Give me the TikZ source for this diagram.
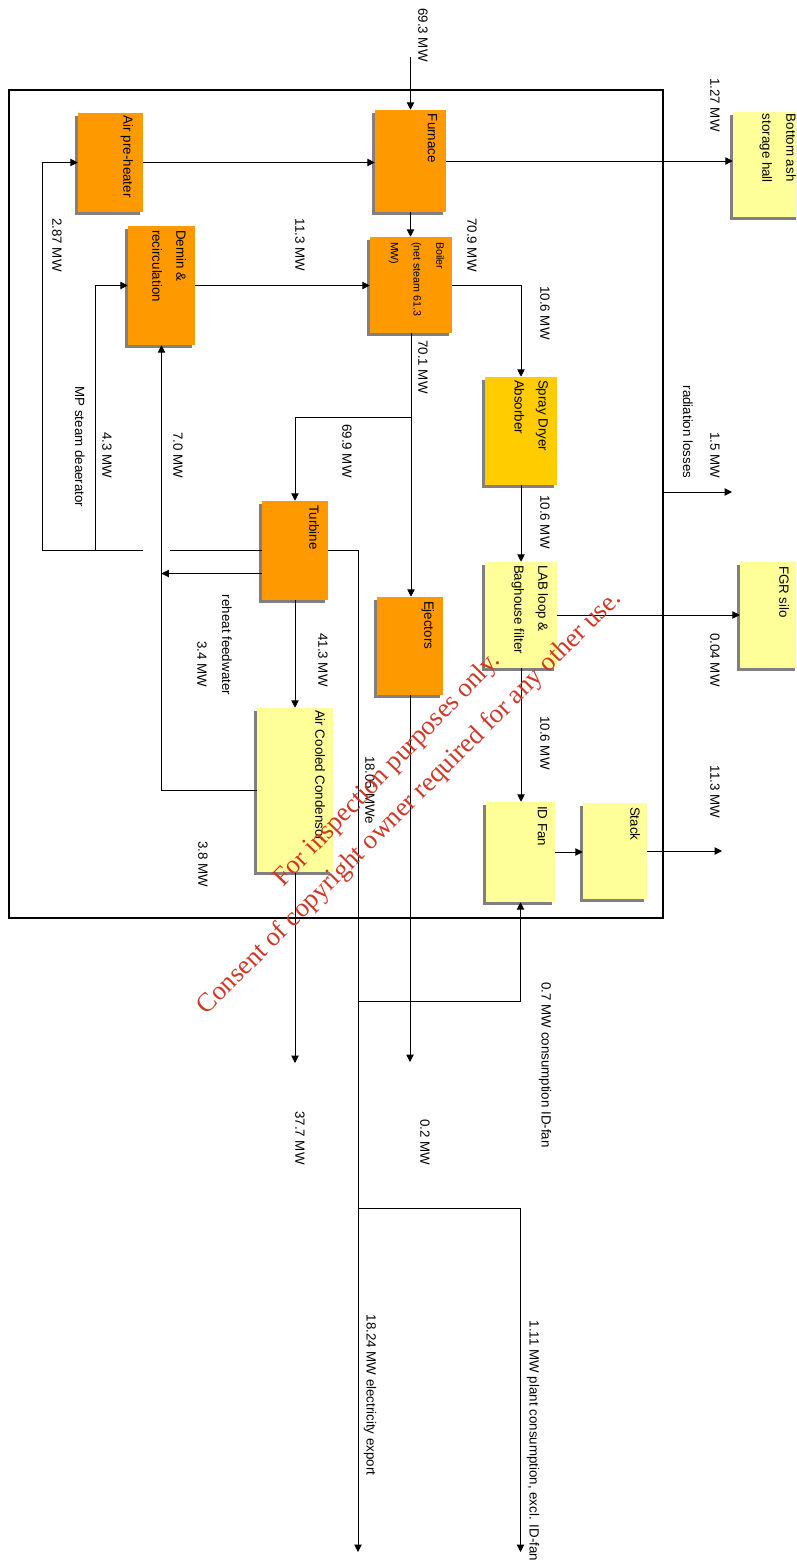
\documentclass[tikz,border=0pt]{standalone}
\usepackage{fontspec}
\setmainfont{Liberation Sans}
\newfontfamily\stampfont{Liberation Serif}
\usetikzlibrary{arrows.meta,positioning,shadows,calc}
\definecolor{unitorange}{RGB}{255,153,0}
\definecolor{unitgold}{RGB}{255,204,0}
\definecolor{unityellow}{RGB}{255,255,153}
\definecolor{stampred}{RGB}{206,56,38}

\begin{document}
\begin{tikzpicture}[x=0.75pt,y=-0.75pt,
  every node/.style={font=\fontsize{10}{12}\selectfont},
  unit/.style={rectangle,inner sep=0pt,drop shadow={shadow xshift=-2.2pt,shadow yshift=-2.2pt,fill=black!50,opacity=1}},
  unittext/.style={rotate=-90,anchor=north west,inner sep=0pt,align=left,font=\fontsize{10}{18}\selectfont},
  flowlabel/.style={rotate=-90,inner sep=0pt},
  flow/.style={line width=0.7pt,-{Triangle[length=5.5pt,width=5.5pt]}},
  wire/.style={line width=0.7pt}]
  \useasboundingbox (0,0) rectangle (796,1566);
  \clip (0,0) rectangle (796,1566);

  % plant boundary
  \draw[line width=1.1pt] (9,90) rectangle (663,918);

  % process units
  \node[unit,fill=unitorange,minimum width=48.75pt,minimum height=74.25pt] (airpre) at (110.5,162.5) {};
  \node[unit,fill=unitorange,minimum width=53.25pt,minimum height=76.5pt] (furnace) at (410.5,161) {};
  \node[unit,fill=unitorange,minimum width=50.25pt,minimum height=89.25pt] (demin) at (161.5,285.5) {};
  \node[unit,fill=unitorange,minimum width=61.5pt,minimum height=72pt] (boiler) at (411,285) {};
  \node[unit,fill=unityellow,minimum width=54pt,minimum height=78.75pt] (ashhall) at (769,164.5) {};
  \node[unit,fill=unitgold,minimum width=54pt,minimum height=81pt] (spray) at (521,431) {};
  \node[unit,fill=unityellow,minimum width=54pt,minimum height=79.5pt] (lab) at (521,615) {};
  \node[unit,fill=unityellow,minimum width=43.5pt,minimum height=79.5pt] (fgrsilo) at (769,615) {};
  \node[unit,fill=unityellow,minimum width=51.75pt,minimum height=75pt] (idfan) at (520.5,852) {};
  \node[unit,fill=unityellow,minimum width=48pt,minimum height=72pt] (stack) at (615,851) {};
  \node[unit,fill=unitorange,minimum width=49.5pt,minimum height=73.5pt] (ejectors) at (410,646) {};
  \node[unit,fill=unitorange,minimum width=49.5pt,minimum height=74.25pt] (turbine) at (295,550.5) {};
  \node[unit,fill=unityellow,minimum width=57pt,minimum height=123pt] (condenser) at (295,790) {};

  % unit names
  \node[unittext] (airpretxt) at ($(airpre.north east)+(-10,3)$) {Air pre-heater};
  \node[unittext] (furnacetxt) at ($(furnace.north east)+(-9,4)$) {Furnace};
  \node[unittext] (demintxt) at ($(demin.north east)+(-9,4)$) {Demin \&\\recirculation};
  \node[unittext,font=\fontsize{8}{17}\selectfont] (boilertxt) at ($(boiler.north east)+(-8,5)$) {Boiler\\(net steam 61.3\\MW)};
  \node[unittext] (ashhalltxt) at ($(ashhall.north east)+(-9,2)$) {Bottom ash\\storage hall};
  \node[unittext] (spraytxt) at ($(spray.north east)+(-9,3)$) {Spray Dryer\\Absorber};
  \node[unittext] (labtxt) at ($(lab.north east)+(-9,3)$) {LAB loop \&\\Baghouse filter};
  \node[unittext] (fgrsilotxt) at ($(fgrsilo.north east)+(-9,4)$) {FGR silo};
  \node[unittext] (idfantxt) at ($(idfan.north east)+(-8,4)$) {ID Fan};
  \node[unittext] (stacktxt) at ($(stack.north east)+(-7,4)$) {Stack};
  \node[unittext] (ejectorstxt) at ($(ejectors.north east)+(-9,4)$) {Ejectors};
  \node[unittext] (turbinetxt) at ($(turbine.north east)+(-9,4)$) {Turbine};
  \node[unittext] (condensertxt) at ($(condenser.north east)+(-8,2)$) {Air Cooled Condensor};

  % free ends and junctions
  \coordinate (fuelin) at (410.5,57);
  \coordinate (split) at (411,417);
  \coordinate (stackout) at (722,851);
  \coordinate (radfrom) at (663,492);
  \coordinate (radto) at (732,492);
  \coordinate (jumpR) at (170,550.5);
  \coordinate (jumpL) at (143,550.5);
  \coordinate (mpcorner) at (42,550.5);
  \coordinate (deaerator) at (95,550.5);
  \coordinate (reheatin) at (161.5,573.5);
  \coordinate (tapfan) at (358,1001);
  \coordinate (tapplant) at (358,1208);
  \coordinate (exportend) at (358,1552);
  \coordinate (plantend) at (520.5,1552);
  \coordinate (condout) at (295,1063);
  \coordinate (ejout) at (410,1062);

  % flue gas and steam flows
  \draw[flow] (fuelin) -- (furnace.north);
  \draw[flow] (airpre.east) -- (airpre.east -| furnace.west);
  \draw[flow] (furnace.east) -- (furnace.east -| ashhall.west);
  \draw[flow] (furnace.south) -- (furnace.south |- boiler.north);
  \draw[flow] (demin.east) -- (demin.east -| boiler.west);
  \draw[flow] (boiler.east) -| (spray.north);
  \draw[wire] (boiler.south) -- (split);
  \draw[flow] (split) -| (turbine.north);
  \draw[flow] (split) -- (split |- ejectors.north);
  \foreach \a/\b in {spray/lab,lab/idfan,turbine/condenser}{\draw[flow] (\a.south) -- (\a.south |- \b.north);}
  \draw[flow] (lab.east) -- (lab.east -| fgrsilo.west);
  \draw[flow] (idfan.east) -- (idfan.east -| stack.west);
  \draw[flow] (stack.east) -- (stackout);
  \draw[flow] (radfrom) -- (radto);
  \draw[flow] (condenser.south) -- (condout);
  \draw[flow] (ejectors.south) -- (ejout);

  % steam extraction and condensate return
  \draw[wire] (turbine.west) -- (jumpR);
  \draw[flow] (jumpL) -- (mpcorner) |- (airpre.west);
  \draw[flow] (deaerator) |- (demin.west);
  \draw[flow] ($(turbine.west)+(0,23)$) -- (reheatin);
  \draw[flow] (condenser.west) -| (demin.south);

  % electricity
  \draw[flow] (turbine.east) -| (exportend);
  \draw[flow] (tapfan) -| (idfan.south);
  \draw[flow] (tapplant) -| (plantend);

  % flow values
  \node[flowlabel] (l693) at (423,35) {69.3 MW};
  \node[flowlabel] (l127) at (715,105) {1.27 MW};
  \node[flowlabel] (l709) at (472,245) {70.9 MW};
  \node[flowlabel] (l113a) at (300,245) {11.3 MW};
  \node[flowlabel] (l287) at (57,245) {2.87 MW};
  \node[flowlabel] (l106a) at (545,313) {10.6 MW};
  \node[flowlabel] (l701) at (423,367) {70.1 MW};
  \node[flowlabel] (l699) at (347,451) {69.9 MW};
  \node[flowlabel] (l15) at (715,455) {1.5 MW};
  \node[flowlabel] (lrad) at (688,432) {radiation losses};
  \node[flowlabel] (l106b) at (545,522) {10.6 MW};
  \node[flowlabel] (l43) at (107,455) {4.3 MW};
  \node[flowlabel] (lmp) at (80,447) {MP steam deaerator};
  \node[flowlabel] (l70) at (178,455) {7.0 MW};
  \node[flowlabel] (l413) at (323,660) {41.3 MW};
  \node[flowlabel] (lreheat) at (227,645) {reheat feedwater};
  \node[flowlabel] (l34) at (202,664) {3.4 MW};
  \node[flowlabel] (l004) at (715,660) {0.04 MW};
  \node[flowlabel] (l106c) at (545,743) {10.6 MW};
  \node[flowlabel] (l1805) at (370,790) {18.05 MWe};
  \node[flowlabel] (l113b) at (715,792) {11.3 MW};
  \node[flowlabel] (l38) at (203,864) {3.8 MW};
  \node[flowlabel] (l07) at (545,1065) {0.7 MW consumption ID-fan};
  \node[flowlabel] (l377) at (300,1138) {37.7 MW};
  \node[flowlabel] (l02) at (425,1142) {0.2 MW};
  \node[flowlabel] (l1824) at (370,1395) {18.24 MW electricity export};
  \node[flowlabel] (l111) at (533,1441) {1.11 MW plant consumption, excl. ID-fan};

  % stamp
  \node[rotate=46,inner sep=0pt,text=stampred,font=\stampfont\fontsize{20}{24}\selectfont] (stamp1) at (388,770) {For inspection purposes only.};
  \node[rotate=45,inner sep=0pt,text=stampred,font=\stampfont\fontsize{20}{24}\selectfont] (stamp2) at (410,803) {Consent of copyright owner required for any other use.};
\end{tikzpicture}
\end{document}
